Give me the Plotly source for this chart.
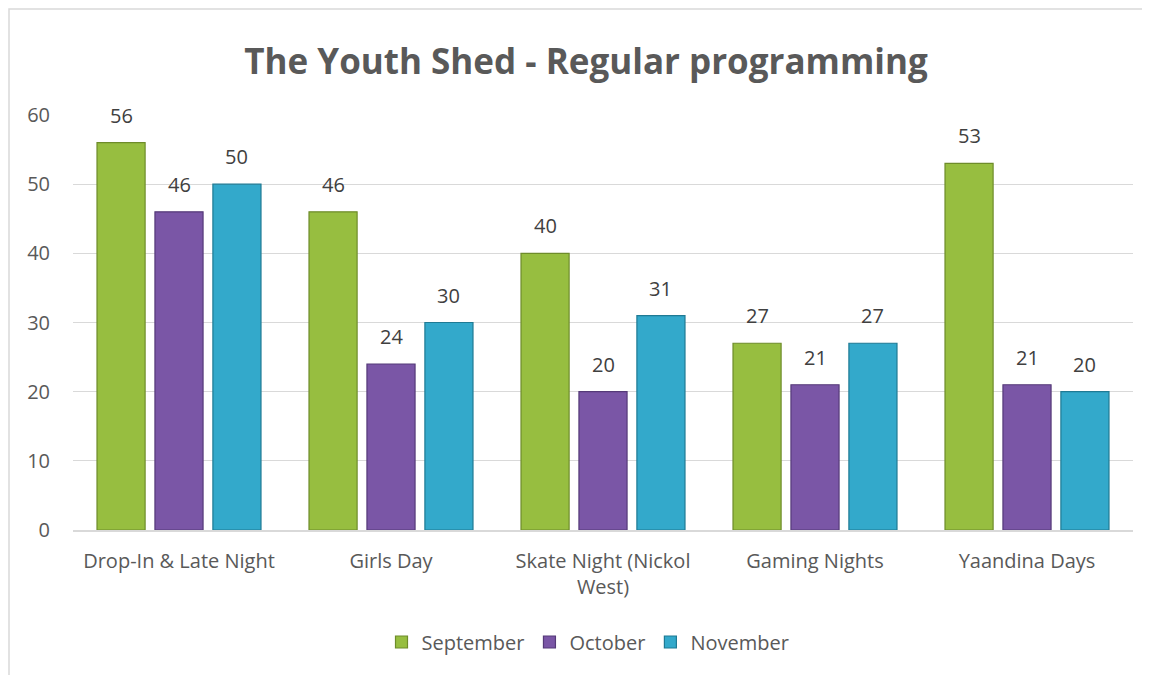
import plotly.graph_objects as go

categories = ["Drop-In & Late Night", "Girls Day", "Skate Night (Nickol<br>West)", "Gaming Nights", "Yaandina Days"]
september = [56, 46, 40, 27, 53]
october = [46, 24, 20, 21, 21]
november = [50, 30, 31, 27, 20]
y_ticks = [0, 10, 20, 30, 40, 50, 60]

FONT = "Open Sans"
series = [
    ("September", september, "#97BE40", "#6E8C2A"),
    ("October", october, "#7A56A6", "#553A78"),
    ("November", november, "#33A9CB", "#1F7A94"),
]

OFF = 8  # page body margin
W, H = 1150 - OFF, 675 - OFF
PL, PR, PT, PB = 73 - OFF, 1133 - OFF, 115 - OFF, 530 - OFF
L, R, T, B = PL, W - PR, PT, H - PB
pw, ph = PR - PL, PB - PT
def px(x): return (x - OFF - PL) / pw
def py(y): return (PB - (y - OFF)) / ph

BARGAP, GROUPGAP = 0.18, 0.17
slot_px = pw / len(categories) * (1 - BARGAP) / len(series)

fig = go.Figure()
annotations = []
for k, (name, vals, col, edge) in enumerate(series):
    fig.add_trace(go.Bar(
        x=categories, y=vals, name=name,
        marker=dict(color=col, line=dict(color=edge, width=1.2)),
    ))
    shift = (k - (len(series) - 1) / 2) * slot_px
    for c, v in zip(categories, vals):
        annotations.append(dict(
            x=c, y=v, xref="x", yref="y", text=str(v), showarrow=False,
            xanchor="center", yanchor="bottom", xshift=shift, yshift=12,
            font=dict(family=FONT, size=20, color="#404040"),
        ))

fig.update_layout(
    width=W, height=H,
    margin=dict(l=L, r=R, t=T, b=B, autoexpand=False),
    paper_bgcolor="white", plot_bgcolor="white",
    barmode="group", bargap=BARGAP, bargroupgap=GROUPGAP,
    title=dict(text="<b>The Youth Shed - Regular programming</b>",
               x=(586 - OFF) / W, xanchor="center", xref="container",
               y=(H - (62 - OFF)) / H, yanchor="middle",
               font=dict(family=FONT, size=35, color="#595959")),
    font=dict(family=FONT, color="#595959"),
    showlegend=True,
    legend=dict(orientation="h", x=px(588), xanchor="center", y=py(642), yanchor="middle",
                font=dict(family=FONT, size=20, color="#595959"),
                itemwidth=30, tracegroupgap=0, traceorder="normal"),
    xaxis=dict(showline=True, linecolor="#D9D9D9", linewidth=1.5, ticks="",
               tickfont=dict(family=FONT, size=20, color="#595959"), ticklabelstandoff=12),
    yaxis=dict(range=[0, 60], tickvals=y_ticks, showgrid=True, gridcolor="#D9D9D9",
               gridwidth=1, zeroline=False, showline=False,
               tickfont=dict(family=FONT, size=20, color="#595959"), ticklabelstandoff=22),
    annotations=annotations,
    shapes=[dict(type="path", xref="paper", yref="paper",
                 path=f"M {px(9)},{py(720)} L {px(9)},{py(9)} L {px(1200)},{py(9)}",
                 line=dict(color="#D9D9D9", width=1.5))],
)

fig.write_html("out.html")
